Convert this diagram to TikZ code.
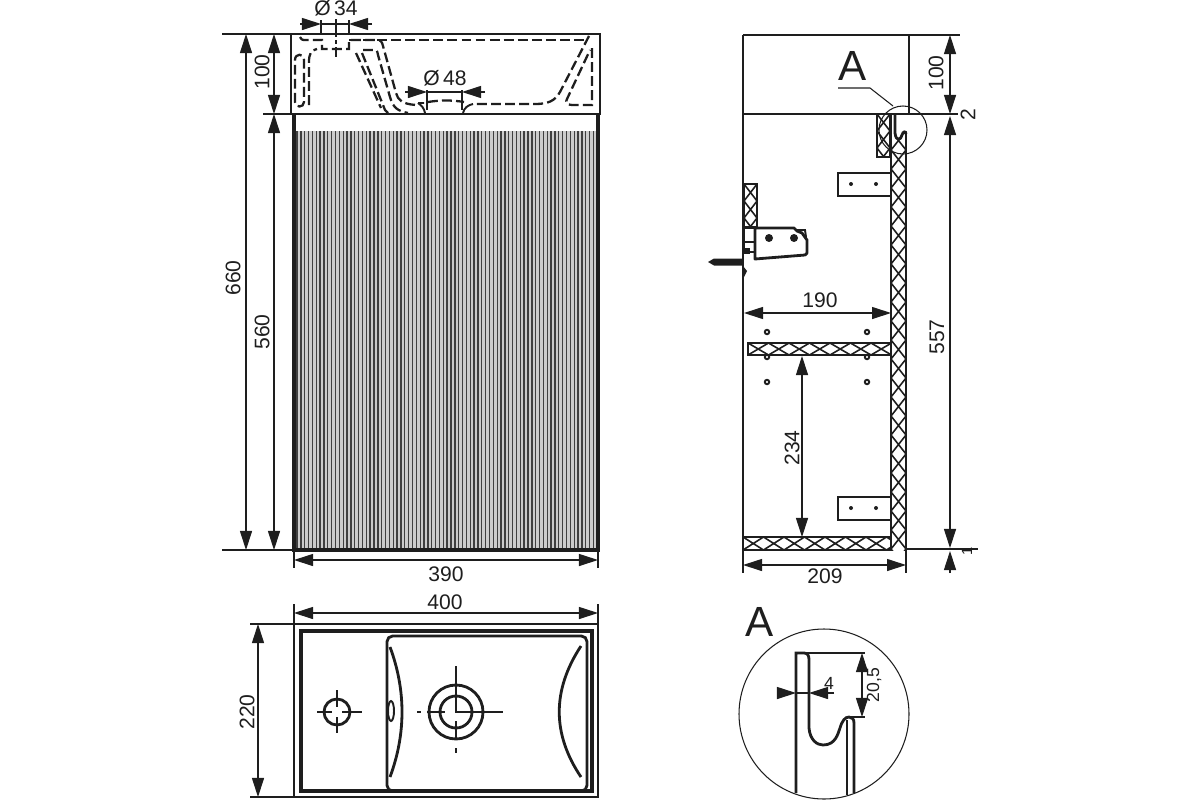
\documentclass[tikz,border=0pt]{standalone}
\usepackage{fontspec}
\setmainfont{Liberation Sans}
\usetikzlibrary{arrows.meta}
\definecolor{ink}{HTML}{1E1E1E}
\tikzstyle{outline} = [ink,line width=0.8pt]
\tikzstyle{heavy} = [ink,line width=1.05pt]
\tikzstyle{fine} = [ink,line width=0.3pt]
\tikzstyle{hatch} = [ink,line width=0.45pt]
\tikzstyle{hidden} = [ink,line width=0.65pt,dash pattern=on 2.8pt off 1.2pt]
\tikzstyle{dimline} = [ink,line width=0.32pt,>={Stealth[length=0.19cm,width=0.12cm,inset=0pt]}]
\tikzstyle{label} = [ink,inner sep=0pt,font=\fontsize{6pt}{7pt}\selectfont]
\tikzstyle{smalllabel} = [ink,inner sep=0pt,font=\fontsize{5pt}{6pt}\selectfont]
\tikzstyle{biglabel} = [ink,inner sep=0pt,font=\fontsize{12pt}{14pt}\selectfont]
\begin{document}
\begin{tikzpicture}[x=0.01cm,y=-0.01cm]
    \useasboundingbox (0,0) rectangle (1200,800);
    % front view
    \draw[outline] (291,34) rectangle (600,114);
    \fill[gray!40] (296,131) rectangle (596,549);
    \foreach \k in {0,1,...,77}{
        \draw[ink!85,line width=0.38pt] (297+\k*3.85,131)--(297+\k*3.85,549);
    }
    \draw[heavy] (294,114)--(294,550)--(598,550)--(598,114);
    % hidden lines of the basin
    \draw[hidden] (300,37) .. controls (302,40) .. (306,40) -- (322,40) -- (322,49) -- (349,49) -- (349,40) -- (377,40)
        .. controls (381,40) and (382,42) .. (383,46) -- (396,93) .. controls (398,100) and (402,104) .. (416,105);
    \draw[hidden] (363,50) -- (373,50) .. controls (377,50) .. (378,55) -- (390,97) .. controls (393,108) and (398,111) .. (408,113);
    \draw[hidden] (356,53) -- (381,108);
    \draw[hidden] (362,53) -- (385,110) .. controls (386,112) .. (388,113);
    \draw[hidden] (295,60) .. controls (295,53) and (304,53) .. (304,60) -- (304,102) .. controls (304,108) and (295,108) .. (295,102) -- cycle;
    \draw[hidden] (309,105) -- (309,62) .. controls (309,54) and (311,50) .. (317,49);
    \draw[hidden] (349,40) -- (588,40);
    \draw[hidden] (589,36) -- (560,92) .. controls (555,101) and (548,104) .. (535,104) -- (473,104);
    \draw[hidden] (592,48) -- (592,105) -- (572,105) .. controls (567,105) and (565,102) .. (567,99) -- (590,50);
    \draw[hidden] (428,102) .. controls (440,100) and (452,100) .. (464,102);
    \draw[ink,line width=0.55pt] (418,103) -- (424,103) (418,103) .. controls (422,106) and (424,108) .. (425,113);
    \draw[ink,line width=0.55pt] (473,104) .. controls (468,105) and (464,108) .. (463,113);
    \draw[ink,line width=0.35pt,dash pattern=on 5pt off 1pt on 1pt off 1pt] (336,19)--(336,57);
    \draw[fine] (321,20)--(321,34) (349,20)--(349,34);
    \draw[fine] (427,90)--(427,110) (462,90)--(462,110);
    \draw[dimline,->] (300,24)--(321,24);
    \draw[dimline,->] (372,24)--(349,24);
    \draw[dimline] (321,24)--(349,24);
    \node[label] (lab34) at (336,8) {Ø\,34};
    \draw[dimline,->] (405,92)--(427,92);
    \draw[dimline,->] (485,92)--(462,92);
    \draw[dimline] (427,92)--(462,92);
    \node[label] (lab48) at (445,78) {Ø\,48};
    \draw[fine] (222,34)--(291,34) (263,114)--(291,114) (222,550)--(294,550);
    \draw[dimline,<->] (246,34)--(246,550);
    \draw[dimline,<->] (274,34)--(274,114);
    \draw[dimline,<->] (274,114)--(274,550);
    \node[label,rotate=90] (lab660) at (233,278) {660};
    \node[label,rotate=90] (lab100a) at (262,72) {100};
    \node[label,rotate=90] (lab560) at (262,332) {560};
    \draw[fine] (294,550)--(294,568) (598,550)--(598,568);
    \draw[dimline,<->] (294,560)--(598,560);
    \node[label] (lab390) at (446,574) {390};

    % side view
    \draw[outline] (743,35)--(909,35)--(909,114);
    \draw[outline] (743,35)--(743,550)--(891,550);
    \draw[outline] (743,114)--(909,114);
    \draw[fine] (909,35)--(960,35) (909,114)--(958,114) (906,549)--(978,549);
    % upright panels
    \foreach \a/\b/\c/\d in {877/114/890/157,744/184/757/227}{
        \begin{scope}
            \clip (\a,\b) rectangle (\c,\d);
            \foreach \k in {0,1,2}{
                \draw[hatch] (\a,\b+\k*17)--(\c,\b+\k*17+17) (\c,\b+\k*17)--(\a,\b+\k*17+17);
            }
        \end{scope}
        \draw[outline] (\a,\b) rectangle (\c,\d);
    }
    % back wall with the hook
    \begin{scope}
        \clip (891,138) rectangle (906,550);
        \foreach \k in {0,1,...,22}{
            \draw[hatch] (891,131+\k*19)--(906,150+\k*19) (906,131+\k*19)--(891,150+\k*19);
        }
    \end{scope}
    \fill[white] (895.5,116) -- (895.5,133) .. controls (896,142) and (901,140) .. (902,135) .. controls (903,131) and (906,131) .. (906,134) -- (907,116) -- cycle;
    \draw[outline] (891,114)--(891,550) (906,134)--(906,550);
    \draw[outline] (895,114)--(895,133) .. controls (896,142) and (901,140) .. (902,135) .. controls (903,131) and (906,131) .. (906,134);
    \draw[outline] (891,114)--(909,114);
    \draw[fine] (903,130) circle (24);
    \draw[fine] (838,88)--(870,88)--(893,106);
    \node[biglabel] (labA) at (853,66) {A};
    \foreach \y in {184,508}{
        \draw[outline] (891,\y-11)--(838,\y-11)--(838,\y+12)--(891,\y+12);
        \fill[ink] (851,\y) circle (2) (876,\y) circle (2);
    }
    \foreach \x in {767,867}{
        \foreach \y in {332,357,382}{
            \draw[ink,line width=0.55pt,fill=white] (\x,\y) circle (2.2);
        }
    }
    % shelf and bottom
    \foreach \a/\b/\c/\d in {748/343/891/355,743/537/891/550}{
        \fill[white] (\a,\b) rectangle (\c,\d);
        \begin{scope}
            \clip (\a,\b) rectangle (\c,\d);
            \foreach \k in {0,1,...,7}{
                \draw[hatch] (\a+\k*20.5,\b)--(\a+\k*20.5+20.5,\d) (\a+\k*20.5+20.5,\b)--(\a+\k*20.5,\d);
            }
        \end{scope}
        \draw[outline] (\a,\b) rectangle (\c,\d);
    }
    % hinge
    \draw[outline,line join=round] (755,228)--(794,228)--(797,231)--(802,233)--(807,240)--(807,253)--(805,255)--(755,259)--cycle;
    \draw[ink,line width=0.55pt] (797,230)--(805,230)--(806,237);
    \fill[ink] (769,238) circle (4) (794,238) circle (4);
    \draw[outline] (744,228) rectangle (755,242);
    \draw[outline] (744,242) rectangle (755,252);
    \fill[ink] (743,248) rectangle (750,254);
    \fill[ink] (708,262) -- (714,258.5) -- (743,258.5) -- (743,265.5) -- (714,265.5) -- cycle;
    \fill[ink] (743,266) -- (747,271) -- (744,277) -- (743,277) -- cycle;
    \draw[dimline,<->] (744,313)--(891,313);
    \node[label] (lab190) at (820,300) {190};
    \draw[dimline,<->] (802,356)--(802,537);
    \node[label,rotate=90] (lab234) at (792,448) {234};
    \draw[dimline,<->] (950,35)--(950,114);
    \node[label,rotate=90] (lab100b) at (936,73) {100};
    \draw[dimline,<->] (950,116)--(950,548);
    \node[label,rotate=90] (lab557) at (937,337) {557};
    \node[label,rotate=90] (lab2) at (968,115) {2};
    \draw[dimline,->] (950,573)--(950,551);
    \node[label,rotate=90,font=\fontsize{4.2pt}{5pt}\selectfont] (lab1) at (967,551) {1};
    \draw[fine] (743,550)--(743,573) (906,549)--(906,573);
    \draw[dimline,<->] (743,565)--(906,565);
    \node[label] (lab209) at (825,576) {209};

    % top view
    \draw[outline] (294,624) rectangle (598,797);
    \draw[heavy] (301,631) rectangle (592,791);
    \draw[outline,rounded corners=1.6pt] (387,636) rectangle (587,791);
    \draw[outline] (390,647) .. controls (406,690) and (406,734) .. (390,777);
    \draw[outline] (581,646) .. controls (552,690) and (552,734) .. (581,777);
    \draw[ink,line width=0.55pt] (391,711) ellipse (3 and 10);
    \draw[outline] (337,712) circle (13);
    \draw[outline] (317,712)--(332,712) (342,712)--(362,712) (337,690)--(337,707) (337,717)--(337,733);
    \draw[outline] (456,712) circle (27) (456,712) circle (16);
    \draw[outline] (456,666)--(456,712)--(503,712) (427,712)--(445,712) (456,721)--(456,740);
    \draw[outline] (417,712)--(421,712) (456,748)--(456,753);
    \draw[fine] (294,604)--(294,627) (598,604)--(598,627);
    \draw[dimline,<->] (294,613)--(598,613);
    \node[label] (lab400) at (445,602) {400};
    \draw[fine] (250,624)--(294,624) (250,797)--(294,797);
    \draw[dimline,<->] (258,624)--(258,797);
    \node[label,rotate=90] (lab220) at (247,712) {220};

    % detail A
    \node[biglabel] (labAb) at (760,622) {A};
    \draw[fine] (824,714) circle (85);
    \draw[outline] (796,793)--(796,653)--(804,653) .. controls (808,653) and (809,656) .. (809,660)
        -- (809,728) .. controls (810,740) and (817,745) .. (823,745) .. controls (836,745) and (838,733) .. (840,728)
        .. controls (842,721) and (845,717) .. (849,717) .. controls (852,717) and (854,719) .. (854,723) -- (854,793);
    \draw[outline] (847,795)--(847,720);
    \draw[fine] (805,653)--(865,653) (850,717)--(865,717);
    \draw[dimline,<->] (862,653)--(862,717);
    \node[smalllabel,rotate=90] (lab205) at (874,685) {20,5};
    \draw[dimline,->] (777,693)--(796,693);
    \draw[dimline,->] (834,693)--(809,693);
    \draw[dimline] (796,693)--(809,693);
    \node[smalllabel] (lab4) at (829,683) {4};
\end{tikzpicture}
\end{document}
